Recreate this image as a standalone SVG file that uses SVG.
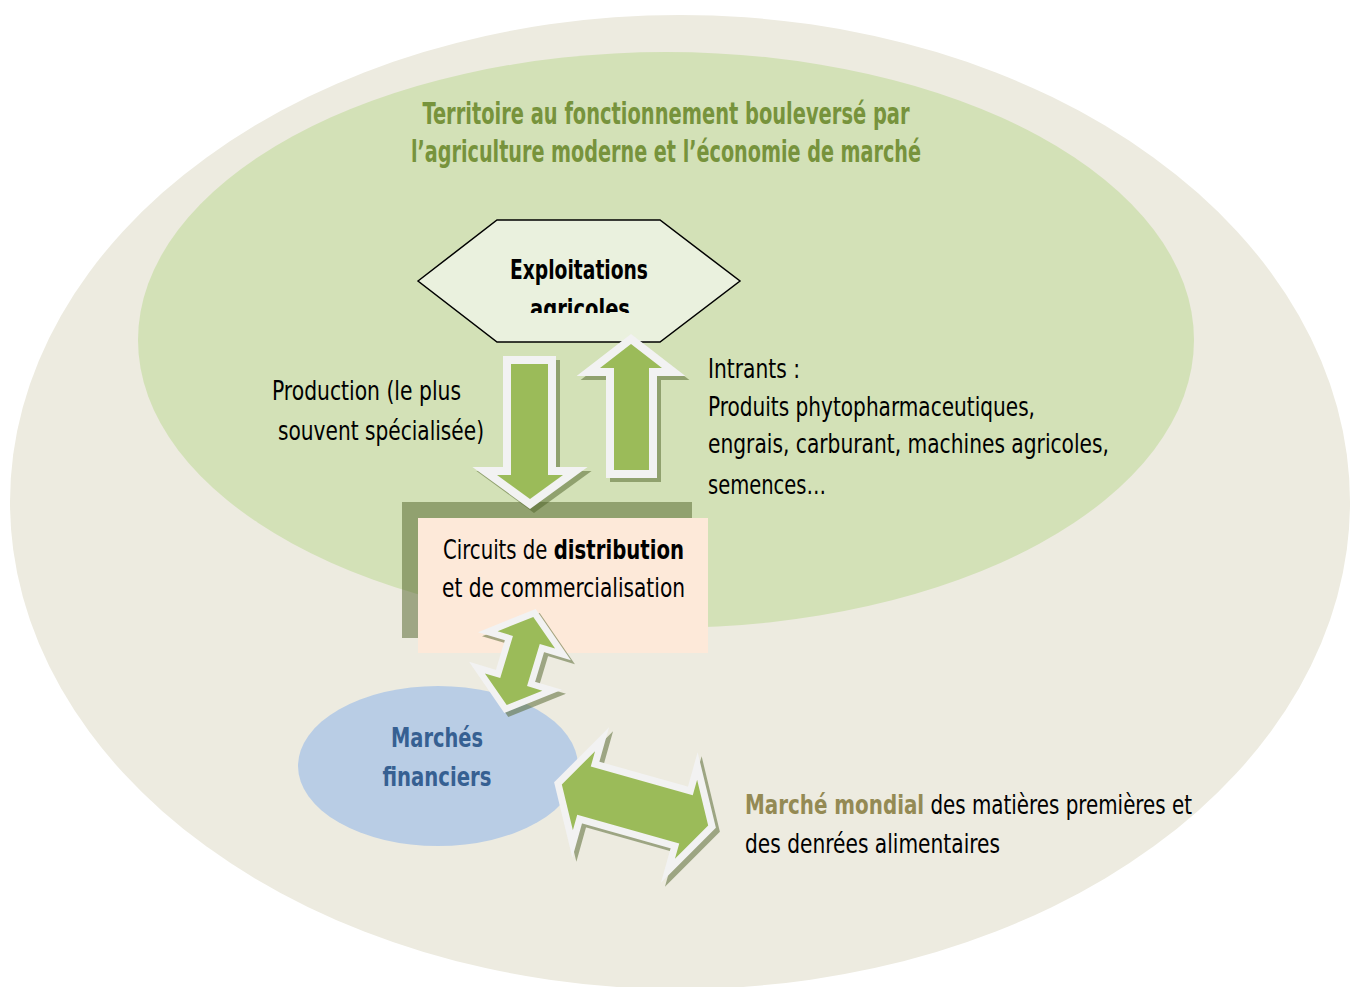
<svg xmlns="http://www.w3.org/2000/svg" width="1357" height="987" viewBox="0 0 1357 987">
<defs>
<style>
text{font-family:"DejaVu Sans Condensed","DejaVu Sans","Liberation Sans",sans-serif;font-stretch:condensed}
.t{font-size:27px;fill:#000}
.b{font-weight:bold}
.arr{fill:#9BBB59;stroke:#F2F2F2;stroke-linejoin:miter;stroke-miterlimit:10;paint-order:stroke}
.sh{fill:#4F6228;stroke:#4F6228;opacity:0.5;stroke-linejoin:miter;stroke-miterlimit:10}
</style>
<clipPath id="hexclip"><rect x="400" y="200" width="360" height="113"/></clipPath>
<path id="vdown" d="M511,364 L548,364 L548,475 L563,475 L530,499 L497,475 L511,475 Z"/>
<path id="vup" d="M631,344 L662,368 L649,368 L649,470 L614,470 L614,368 L600,368 Z"/>
<path id="dbl" d="M-76,0 L-53,-41 L-53,-25 L53,-25 L53,-41 L76,0 L53,41 L53,25 L-53,25 L-53,41 Z"/>
<path id="dia" d="M0,-46 L30,-22 L14,-22 L14,22 L30,22 L0,46 L-30,22 L-14,22 L-14,-22 L-30,-22 Z"/>
</defs>
<rect width="1357" height="987" fill="#FFFFFF"/>
<g id="territoire-mondial">
<ellipse cx="680" cy="502" rx="670" ry="487" fill="#EDEBE0"/>
</g>
<g id="territoire">
<ellipse cx="666" cy="340" rx="528" ry="288" fill="#D3E1B7"/>
<text x="666" y="124" text-anchor="middle" class="b" font-size="30" fill="#77933C" textLength="487" lengthAdjust="spacingAndGlyphs">Territoire au fonctionnement bouleversé par</text>
<text x="666" y="162" text-anchor="middle" class="b" font-size="30" fill="#77933C" textLength="510" lengthAdjust="spacingAndGlyphs">l’agriculture moderne et l’économie de marché</text>
</g>
<g id="exploitations">
<polygon points="418,281 497,220 660,220 740,281 660,342 497,342" fill="#EAF1DE" stroke="#000" stroke-width="1.5"/>
<text x="579" y="279" text-anchor="middle" class="b" font-size="27" fill="#000" textLength="138" lengthAdjust="spacingAndGlyphs">Exploitations</text>
<text x="580" y="318" text-anchor="middle" class="b" font-size="27" fill="#000" textLength="100" lengthAdjust="spacingAndGlyphs" clip-path="url(#hexclip)">agricoles</text>
</g>
<g id="circuits">
<rect x="402" y="502" width="290" height="136" fill="#4F6228" opacity="0.5"/>
<rect x="418" y="518" width="290" height="135" fill="#FDE9D9"/>
<text x="443" y="559" class="t" textLength="241" lengthAdjust="spacingAndGlyphs">Circuits de <tspan class="b">distribution</tspan></text>
<text x="442" y="597" class="t" textLength="243" lengthAdjust="spacingAndGlyphs">et de commercialisation</text>
</g>
<g id="marches-financiers">
<ellipse cx="438" cy="766" rx="140" ry="80" fill="#B9CDE5"/>
<text x="437" y="747" text-anchor="middle" class="b" font-size="27" fill="#366092" textLength="92" lengthAdjust="spacingAndGlyphs">Marchés</text>
<text x="437" y="786" text-anchor="middle" class="b" font-size="27" fill="#366092" textLength="109" lengthAdjust="spacingAndGlyphs">financiers</text>
</g>
<g id="connectors">
<use href="#vdown" class="sh" stroke-width="16" transform="translate(4,4)"/>
<use href="#vdown" class="arr" stroke-width="16"/>
<use href="#vup" class="sh" stroke-width="16" transform="translate(4,4)"/>
<use href="#vup" class="arr" stroke-width="16"/>
<use href="#dia" class="sh" stroke-width="13" transform="translate(524,665) rotate(16.8)"/>
<use href="#dia" class="arr" stroke-width="13" transform="translate(520,661) rotate(16.8)"/>
<use href="#dbl" class="sh" stroke-width="14" transform="translate(639,809) rotate(15.7)"/>
<use href="#dbl" class="arr" stroke-width="14" transform="translate(635,805) rotate(15.7)"/>
</g>
<g id="labels">
<text x="272" y="400" class="t" textLength="189" lengthAdjust="spacingAndGlyphs">Production (le plus</text>
<text x="278" y="440" class="t" textLength="206" lengthAdjust="spacingAndGlyphs">souvent spécialisée)</text>
<text x="708" y="378" class="t" textLength="92" lengthAdjust="spacingAndGlyphs">Intrants :</text>
<text x="708" y="416" class="t" textLength="327" lengthAdjust="spacingAndGlyphs">Produits phytopharmaceutiques,</text>
<text x="708" y="453" class="t" textLength="401" lengthAdjust="spacingAndGlyphs">engrais, carburant, machines agricoles,</text>
<text x="708" y="494" class="t" textLength="118" lengthAdjust="spacingAndGlyphs">semences…</text>
</g>
<g id="marche-mondial">
<text x="745" y="814" class="t" textLength="447" lengthAdjust="spacingAndGlyphs"><tspan class="b" style="fill:#948A54">Marché mondial</tspan> des matières premières et</text>
<text x="745" y="853" class="t" textLength="255" lengthAdjust="spacingAndGlyphs">des denrées alimentaires</text>
</g>
</svg>
